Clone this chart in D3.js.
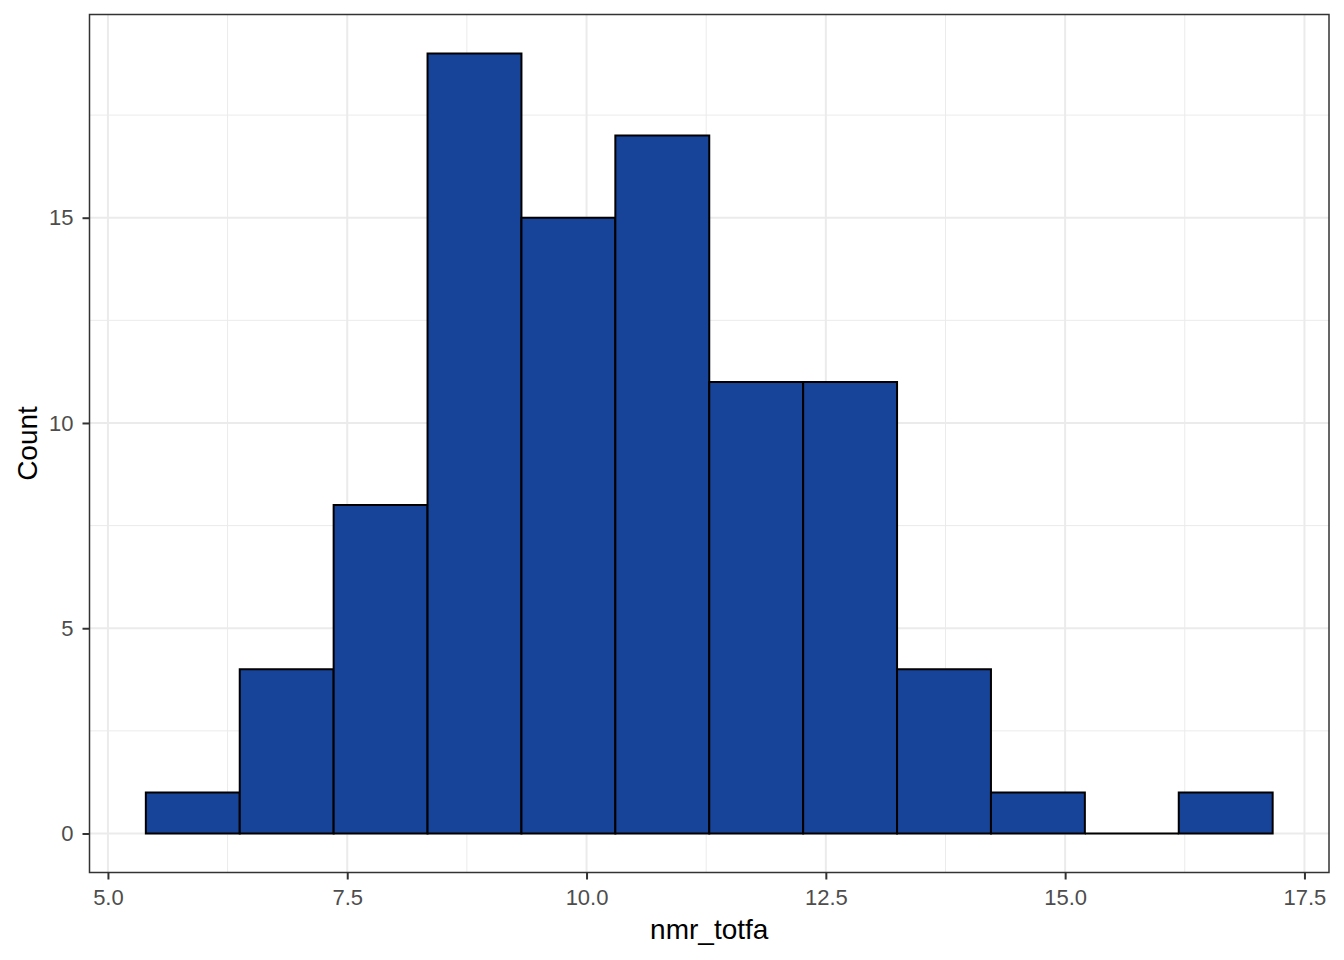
<!DOCTYPE html>
<html><head><meta charset="utf-8">
<script src="https://cdn.jsdelivr.net/npm/d3@7"></script>
<style>body{margin:0;background:#fff}svg{display:block}text{font-family:"Liberation Sans",Arial,sans-serif}</style>
</head><body>
<svg id="c" width="1344" height="960"></svg>
<script>
const binStart = 5.396;
const binWidth = 0.981;
const counts = [1,4,8,19,15,17,11,11,4,1,0,1];
const xTicks = [5.0, 7.5, 10.0, 12.5, 15.0, 17.5];
const yTicks = [0, 5, 10, 15];
const xMinor = [6.25, 8.75, 11.25, 13.75, 16.25];
const yMinor = [2.5, 7.5, 12.5, 17.5];

const bins = counts.map((c,i)=>({x0: binStart + i*binWidth, x1: binStart + (i+1)*binWidth, c}));
const L=89.5, R=1329, T=14.5, B=872.5;
const xMin = binStart, xMax = binStart + counts.length*binWidth;
const xr = xMax-xMin;
const x = d3.scaleLinear().domain([xMin-0.05*xr, xMax+0.05*xr]).range([L,R]);
const yMaxV = d3.max(counts);
const y = d3.scaleLinear().domain([-0.05*yMaxV, yMaxV*1.05]).range([B,T]);

const svg = d3.select("#c");
const g = svg.append("g");
g.selectAll(".xm").data(xMinor).join("line").attr("x1",d=>x(d)).attr("x2",d=>x(d)).attr("y1",T).attr("y2",B).attr("stroke","#ebebeb").attr("stroke-width",1);
g.selectAll(".ym").data(yMinor).join("line").attr("y1",d=>y(d)).attr("y2",d=>y(d)).attr("x1",L).attr("x2",R).attr("stroke","#ebebeb").attr("stroke-width",1);
g.selectAll(".xM").data(xTicks).join("line").attr("x1",d=>x(d)).attr("x2",d=>x(d)).attr("y1",T).attr("y2",B).attr("stroke","#ebebeb").attr("stroke-width",2);
g.selectAll(".yM").data(yTicks).join("line").attr("y1",d=>y(d)).attr("y2",d=>y(d)).attr("x1",L).attr("x2",R).attr("stroke","#ebebeb").attr("stroke-width",2);
g.selectAll(".bar").data(bins).join("path")
 .attr("d",d=>{const p=d3.path();p.rect(x(d.x0),y(d.c),x(d.x1)-x(d.x0),y(0)-y(d.c));return p.toString();})
 .attr("fill","#174499").attr("stroke","#000").attr("stroke-width",2).attr("stroke-linejoin","miter");
svg.append("rect").attr("x",L).attr("y",T).attr("width",R-L).attr("height",B-T).attr("fill","none").attr("stroke","#333").attr("stroke-width",1.5);
const xa = svg.append("g").attr("transform",`translate(0,${B})`).call(d3.axisBottom(x).tickValues(xTicks).tickFormat(d3.format(".1f")).tickSize(7).tickPadding(10));
const ya = svg.append("g").attr("transform",`translate(${L},0)`).call(d3.axisLeft(y).tickValues(yTicks).tickSize(7).tickPadding(9));
[xa,ya].forEach(a=>{a.attr("font-size",null).attr("font-family",null);a.select(".domain").remove();a.selectAll("line").attr("stroke","#333").attr("stroke-width",2);a.selectAll("text").attr("fill","#4d4d4d").style("font-size","22px");});
svg.append("text").attr("x",(L+R)/2).attr("y",939).attr("text-anchor","middle").style("font-size","28px").attr("fill","#000").text("nmr_totfa");
svg.append("text").attr("transform",`translate(37,${(T+B)/2}) rotate(-90)`).attr("text-anchor","middle").style("font-size","28px").attr("fill","#000").text("Count");
</script>
</body></html>
